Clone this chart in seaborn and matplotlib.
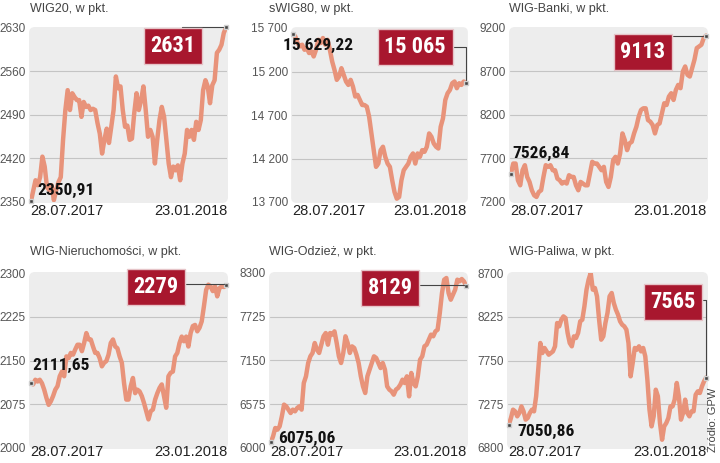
import matplotlib
matplotlib.use("Agg")
import matplotlib.pyplot as plt
from matplotlib.patches import FancyBboxPatch
import seaborn as sns
import pandas as pd

titles = ["WIG20, w pkt.", "sWIG80, w pkt.", "WIG-Banki, w pkt.",
          "WIG-Nieruchomości, w pkt.", "WIG-Odzież, w pkt.", "WIG-Paliwa, w pkt."]
start_labels = ["2350,91", "15 629,22", "7526,84", "2111,65", "6075,06", "7050,86"]
end_labels = ["2631", "15 065", "9113", "2279", "8129", "7565"]
date_labels = ["28.07.2017", "23.01.2018"]

yticks = [
    [2350, 2420, 2490, 2560, 2630],
    [13700, 14200, 14700, 15200, 15700],
    [7200, 7700, 8200, 8700, 9200],
    [2000, 2075, 2150, 2225, 2300],
    [6000, 6575, 7150, 7725, 8300],
    [6800, 7275, 7750, 8225, 8700],
]
ytick_labels = [
    ["2350", "2420", "2490", "2560", "2630"],
    ["13 700", "14 200", "14 700", "15 200", "15 700"],
    ["7200", "7700", "8200", "8700", "9200"],
    ["2000", "2075", "2150", "2225", "2300"],
    ["6000", "6575", "7150", "7725", "8300"],
    ["6800", "7275", "7750", "8225", "8700"],
]

wig20 = [2350.91, 2368, 2385, 2377, 2390, 2423, 2407, 2374, 2369, 2377, 2353, 2369, 2382, 2390,
         2450, 2498, 2530, 2498, 2525, 2519, 2514, 2514, 2487, 2511, 2503, 2505, 2498, 2500, 2498,
         2477, 2460, 2428, 2450, 2468, 2445, 2471, 2498, 2552, 2533, 2536, 2498, 2471, 2473, 2450,
         2452, 2493, 2525, 2498, 2514, 2536, 2498, 2455, 2466, 2455, 2412, 2450, 2482, 2503, 2487,
         2450, 2412, 2390, 2407, 2401, 2409, 2385, 2412, 2428, 2466, 2455, 2466, 2450, 2479, 2466,
         2482, 2530, 2546, 2536, 2509, 2538, 2546, 2590, 2595, 2603, 2622, 2631]
swig80 = [15629.22, 15604, 15527, 15488, 15508, 15450, 15469, 15412, 15431, 15373, 15450, 15565,
          15527, 15585, 15508, 15565, 15450, 15315, 15219, 15104, 15142, 15238, 15162, 15085, 15046,
          15104, 15027, 14912, 14931, 14873, 14815, 14815, 14796, 14681, 14488, 14296, 14104, 14142,
          14296, 14335, 14219, 14142, 14104, 13950, 13815, 13738, 13758, 13950, 14065, 14104, 14142,
          14219, 14258, 14142, 14258, 14219, 14296, 14277, 14335, 14488, 14450, 14373, 14335, 14315,
          14565, 14662, 14873, 14950, 14988, 15065, 15085, 15008, 15065, 15046, 15085, 15065]
wig_banki = [7526.84, 7642, 7642, 7450, 7392, 7565, 7623, 7488, 7431, 7335, 7277, 7258, 7315, 7335,
             7488, 7623, 7604, 7623, 7565, 7565, 7469, 7450, 7412, 7431, 7412, 7508, 7488, 7488,
             7392, 7335, 7431, 7412, 7392, 7392, 7527, 7662, 7642, 7642, 7604, 7565, 7604, 7431,
             7373, 7488, 7681, 7719, 7642, 7758, 7988, 7912, 7796, 7873, 7892, 7988, 8065, 8181,
             8258, 8277, 8277, 8142, 8123, 8085, 7988, 8085, 8104, 8219, 8335, 8315, 8412, 8450,
             8373, 8488, 8546, 8508, 8700, 8758, 8662, 8642, 8738, 8835, 8969, 8988, 9008, 9085, 9113]
wig_nier = [2111.65, 2109, 2117, 2114, 2117, 2111, 2100, 2086, 2074, 2080, 2089, 2100, 2106, 2123,
            2131, 2123, 2157, 2154, 2163, 2160, 2169, 2177, 2177, 2166, 2180, 2197, 2186, 2186,
            2174, 2163, 2163, 2154, 2140, 2146, 2149, 2160, 2180, 2186, 2174, 2171, 2157, 2146,
            2111, 2083, 2083, 2106, 2120, 2094, 2100, 2097, 2089, 2077, 2063, 2049, 2063, 2066,
            2083, 2094, 2103, 2109, 2089, 2069, 2123, 2129, 2131, 2157, 2163, 2180, 2191, 2183,
            2191, 2174, 2197, 2209, 2211, 2200, 2206, 2217, 2243, 2271, 2280, 2277, 2269, 2277,
            2260, 2274, 2277, 2276, 2279]
wig_odziez = [6075.06, 6153, 6263, 6241, 6285, 6416, 6570, 6548, 6504, 6460, 6504, 6482, 6526, 6548,
              6504, 6854, 6942, 7117, 7205, 7249, 7380, 7292, 7249, 7358, 7468, 7511, 7358, 7511,
              7490, 7533, 7380, 7205, 7117, 7249, 7468, 7380, 7249, 7336, 7314, 7227, 7117, 6942,
              6810, 6723, 6942, 7030, 7117, 7205, 7183, 7117, 7051, 7117, 7030, 6810, 6767, 6745,
              6701, 6767, 6789, 6832, 6898, 6854, 6942, 6679, 6986, 6854, 6810, 6942, 7161, 7205,
              7336, 7358, 7424, 7490, 7468, 7533, 7555, 7774, 8037, 8212, 8234, 8037, 7949, 8015,
              8081, 8212, 8190, 8221, 8190, 8129]
wig_paliwa = [7050.86, 7126, 7216, 7198, 7144, 7180, 7252, 7198, 7108, 7126, 7180, 7216, 7198, 7361,
              7650, 7940, 7831, 7886, 7849, 7813, 7831, 7849, 7904, 8157, 8121, 8193, 8229, 8211,
              8049, 7940, 7904, 8012, 7994, 8049, 8175, 8193, 8338, 8519, 8628, 8700, 8519, 8537,
              8447, 8193, 7976, 8012, 8157, 8266, 8447, 8483, 8374, 8302, 8248, 8175, 8139, 8121,
              8085, 7940, 7578, 7723, 7886, 7867, 7904, 7849, 7886, 7795, 7542, 7216, 7035, 7144,
              7433, 7361, 7071, 6890, 7035, 7071, 7126, 7252, 7252, 7325, 7506, 7361, 7108, 7180,
              7325, 7180, 7144, 7198, 7198, 7379, 7415, 7397, 7469, 7524, 7565]
series = [wig20, swig80, wig_banki, wig_nier, wig_odziez, wig_paliwa]

# layout, pixels: (left, top, right, bottom) of each plot area
rects = [(30, 28, 227, 202), (292, 28, 467, 202), (510, 28, 707, 202),
         (30, 273, 227, 448), (270, 273, 467, 448), (508, 273, 707, 448)]
title_x = [30, 269, 509, 30, 269, 509]
# end box: axes-fraction center, relpos on box, connection style
box_pos = [(0.726, 0.897), (0.703, 0.891), (0.675, 0.862),
           (0.64, 0.92), (0.609, 0.914), (0.829, 0.834)]
box_rel = [(0.7, 1), (1, 0.5), (0.55, 1), (1, 0.65), (1, 0.65), (1, 0.6)]
box_conn = ["angle,angleA=90,angleB=0,rad=0", "angle,angleA=0,angleB=90,rad=0",
            "angle,angleA=90,angleB=0,rad=0", "angle,angleA=0,angleB=90,rad=0",
            "angle,angleA=0,angleB=90,rad=0", "angle,angleA=0,angleB=90,rad=0"]
start_pos = [(0.036, 0.069), (-0.05, 0.897), (0.01, 0.276),
             (0.01, 0.469), (0.04, 0.057), (0.045, 0.097)]

sns.set_theme(style="white")
cond = ["Liberation Sans Narrow", "Roboto Condensed", "DejaVu Sans Condensed",
        "Open Sans Condensed", "Liberation Sans", "DejaVu Sans"]
plt.rcParams["font.family"] = ["Liberation Sans", "DejaVu Sans"]

W, H = 720, 463
fig = plt.figure(figsize=(7.2, 4.63), dpi=100)
line_color = "#e8937a"

for i, vals in enumerate(series):
    l, t, r, b = rects[i]
    ax = fig.add_axes([l / W, 1 - b / H, (r - l) / W, (b - t) / H])
    df = pd.DataFrame({"idx": range(len(vals)), "value": vals})
    ax.set_facecolor("none")
    ax.add_patch(FancyBboxPatch((0, 0), 1, 1, boxstyle="round,pad=0.005,rounding_size=0.03",
                                transform=ax.transAxes, facecolor="#ededed", edgecolor="none",
                                zorder=0, clip_on=False, mutation_aspect=(r - l) / (b - t)))
    for yt in yticks[i][1:-1]:
        ax.axhline(yt, color="#c4c4c4", lw=0.8, zorder=1)
    sns.lineplot(data=df, x="idx", y="value", ax=ax, color=line_color, lw=3.2,
                 estimator=None, zorder=2)
    n = len(vals)
    ax.set_xlim(-0.4, n - 1 + 0.4)
    ax.set_ylim(yticks[i][0], yticks[i][-1])
    ax.set_yticks(yticks[i])
    ax.set_yticklabels(ytick_labels[i], fontsize=8.5, color="#555555")
    ax.set_xticks([])
    ax.tick_params(axis="y", length=0, pad=3)
    ax.set_xlabel("")
    ax.set_ylabel("")
    for s in ax.spines.values():
        s.set_visible(False)

    for xi in (0, n - 1):
        ax.plot([xi], [vals[xi]], marker="s", ms=3.5, mfc="#444444", mec="#d0d0d0", mew=1,
                zorder=5, clip_on=False)

    ax.annotate(end_labels[i], xy=(n - 1, vals[-1]), xycoords="data",
                xytext=box_pos[i], textcoords="axes fraction", ha="center", va="center",
                fontsize=16, fontweight="bold", color="white", family=cond, zorder=6,
                annotation_clip=False,
                bbox=dict(boxstyle="square,pad=0.3", fc="#a8172e", ec="#e6c4c8", lw=1),
                arrowprops=dict(arrowstyle="-", color="#444444", lw=0.8, relpos=box_rel[i],
                                connectionstyle=box_conn[i], shrinkA=0, shrinkB=2))
    ax.text(start_pos[i][0], start_pos[i][1], start_labels[i], transform=ax.transAxes,
            ha="left", va="center", fontsize=12.5, fontweight="bold", color="#111111",
            family=cond, zorder=6)

    dy = -0.052 if i < 3 else -0.02
    ax.text(0, dy, date_labels[0], transform=ax.transAxes, ha="left", va="center",
            fontsize=10.5, color="#222222")
    ax.text(1, dy, date_labels[1], transform=ax.transAxes, ha="right", va="center",
            fontsize=10.5, color="#222222")

    ty = 9 if i < 3 else 252
    fig.text(title_x[i] / W, 1 - ty / H, titles[i], ha="left", va="center",
             fontsize=9, color="#444444")

fig.text(713 / W, 1 - 420 / H, "Źródło: GPW", rotation=90, ha="center", va="center",
         fontsize=8, color="#444444")

fig.savefig("out.png", dpi=100)
